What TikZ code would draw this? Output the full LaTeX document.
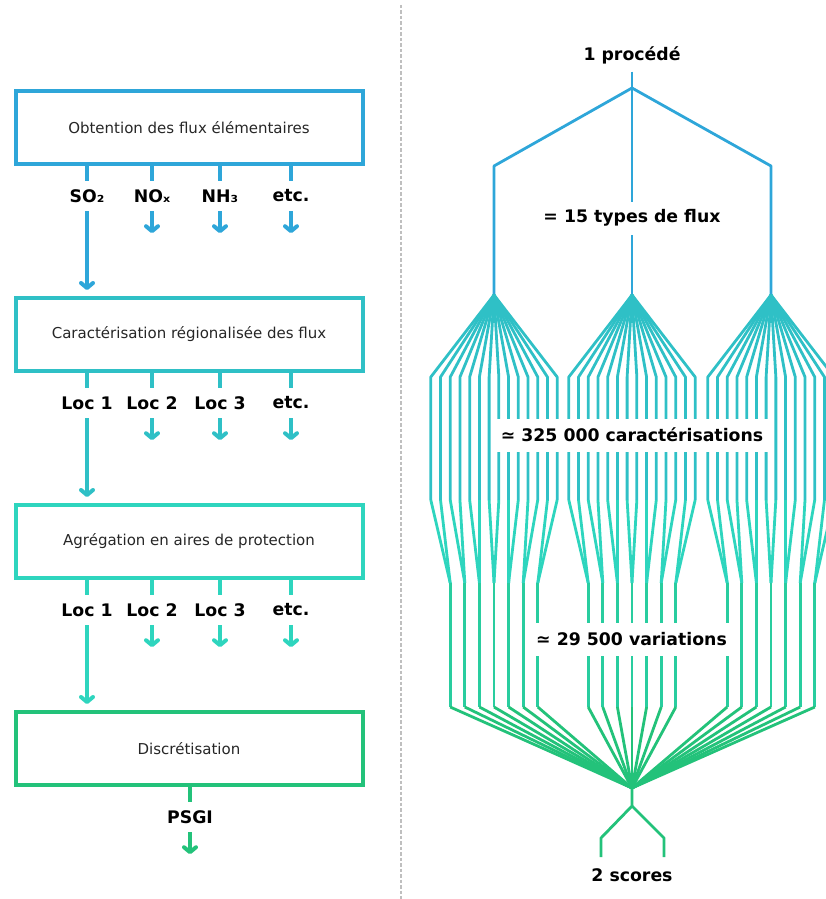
\documentclass[tikz,border=0pt]{standalone}
\usepackage{fontspec}
\setmainfont{DejaVu Sans}
\usepackage{xcolor}
\usetikzlibrary{arrows.meta, positioning}

\definecolor{flowblue}{HTML}{2EA6D9}
\definecolor{flowteal}{HTML}{2FC0C6}
\definecolor{flowturq}{HTML}{2ED5BE}
\definecolor{flowgreen}{HTML}{23C27A}
\colorlet{flowmint}{flowturq!55!flowgreen}

\begin{document}
\begin{tikzpicture}[
    x=1pt, y=-1pt,
    stage/.style={rectangle, draw, line width=4pt, minimum width=347pt, minimum height=73pt, text=black!85, font=\fontsize{15}{18}\selectfont},
    tag/.style={inner sep=0pt, minimum height=30pt, font=\fontsize{17.3}{20}\selectfont\bfseries},
    stem/.style={line width=4pt},
    arrow/.style={-{Straight Barb[round, length=5pt, width=12pt]}, line width=4pt},
    branch/.style={line width=2.8pt, line join=round},
    count/.style={fill=white, inner xsep=5pt, inner ysep=0pt, minimum height=33pt, font=\fontsize{17.3}{20}\selectfont\bfseries}
  ]
  \useasboundingbox (0,0) rectangle (826,899);
  \clip (0,0) rectangle (826,899);

  % separator
  \draw[black!25, line width=2.4pt, dash pattern=on 3.5pt off 2pt] (401,5) -- (401,899);

  % left: steps
  \node[stage, draw=flowblue]  (obt)  at (189,127.5) {Obtention des flux élémentaires};
  \node[stage, draw=flowteal]  (car)  at (189,334.5) {Caractérisation régionalisée des flux};
  \node[stage, draw=flowturq]  (agr)  at (189,541.5) {Agrégation en aires de protection};
  \node[stage, draw=flowgreen] (disc) at (189,748.5) {Discrétisation};

  \foreach \name/\x/\txt in {so2/87/SO₂, nox/152/NOₓ, nh3/220/NH₃, etca/291/etc.} {
    \node[tag] (\name) at (\x,196) {\txt};
    \draw[stem, flowblue] (obt.south -| \name) -- (\name.north);
  }
  \foreach \name/\x/\txt in {loca/87/Loc 1, locb/152/Loc 2, locc/220/Loc 3, etcb/291/etc.} {
    \node[tag] (\name) at (\x,403) {\txt};
    \draw[stem, flowteal] (car.south -| \name) -- (\name.north);
  }
  \foreach \name/\x/\txt in {locd/87/Loc 1, loce/152/Loc 2, locf/220/Loc 3, etcc/291/etc.} {
    \node[tag] (\name) at (\x,610) {\txt};
    \draw[stem, flowturq] (agr.south -| \name) -- (\name.north);
  }
  \node[tag] (psgi) at (190,817) {PSGI};
  \draw[stem, flowgreen] (disc.south -| psgi) -- (psgi.north);

  % short arrows
  \foreach \name/\col in {nox/flowblue, nh3/flowblue, etca/flowblue, locb/flowteal, locc/flowteal, etcb/flowteal, loce/flowturq, locf/flowturq, etcc/flowturq, psgi/flowgreen} {
    \coordinate (\name-out) at ([yshift=-22pt]\name.south);
    \draw[arrow, \col] (\name) -- (\name-out);
  }
  % long arrows
  \draw[arrow, flowblue, shorten >=6pt] (so2) -- (car.north -| so2);
  \draw[arrow, flowteal, shorten >=6pt] (loca) -- (agr.north -| loca);
  \draw[arrow, flowturq, shorten >=6pt] (locd) -- (disc.north -| locd);

  % right: tree
  \node[count] (proc) at (632,55) {1 procédé};
  \coordinate (root) at (632,88);
  \coordinate (s0) at (494,166);
  \coordinate (s2) at (771,166);
  \foreach \g/\cx in {0/494, 1/632, 2/771}
    \coordinate (a\g) at (\cx,295);
  \draw[branch, flowblue] (proc) -- (root);
  \draw[branch, flowblue] (root) -- (s0) -- (a0);
  \draw[branch, flowblue] (root) -- (a1);
  \draw[branch, flowblue] (root) -- (s2) -- (a2);

  \coordinate (sink) at (632,788);
  \foreach \g/\cx in {0/494, 1/632, 2/771} {
    \foreach \i in {0,...,13} {
      \pgfmathsetmacro{\xt}{\cx-63.2+9.72*\i}
      \pgfmathtruncatemacro{\k}{\i/2}
      \pgfmathsetmacro{\xb}{\cx-43.8+14.6*\k}
      \coordinate (u\g-\i) at (\xt,377);
      \coordinate (v\g-\i) at (\xt,500);
      \coordinate (w\g-\i) at (\xb,583);
      \draw[branch, flowteal] (a\g) -- (u\g-\i) -- (v\g-\i);
      \draw[branch, flowturq] (v\g-\i) -- (w\g-\i);
    }
    \foreach \k in {0,...,6} {
      \pgfmathsetmacro{\xb}{\cx-43.8+14.6*\k}
      \coordinate (m\g-\k) at (\xb,583);
      \coordinate (n\g-\k) at (\xb,707);
      \draw[branch, flowmint] (m\g-\k) -- (n\g-\k);
      \draw[branch, flowgreen] (n\g-\k) -- (sink);
    }
  }
  \coordinate (fork) at (632,806);
  \coordinate (l1) at (601,838);
  \coordinate (l2) at (601,857);
  \coordinate (r1) at (664,838);
  \coordinate (r2) at (664,857);
  \draw[branch, flowgreen] (sink) -- (fork) -- (l1) -- (l2);
  \draw[branch, flowgreen] (fork) -- (r1) -- (r2);

  \node[count] (types) at (632,218) {= 15 types de flux};
  \node[count] (carac) at (632,435) {≃ 325 000 caractérisations};
  \node[count] (vari)  at (631.5,639) {≃ 29 500 variations};
  \node[count] (scores) at (632,875) {2 scores};
\end{tikzpicture}
\end{document}
